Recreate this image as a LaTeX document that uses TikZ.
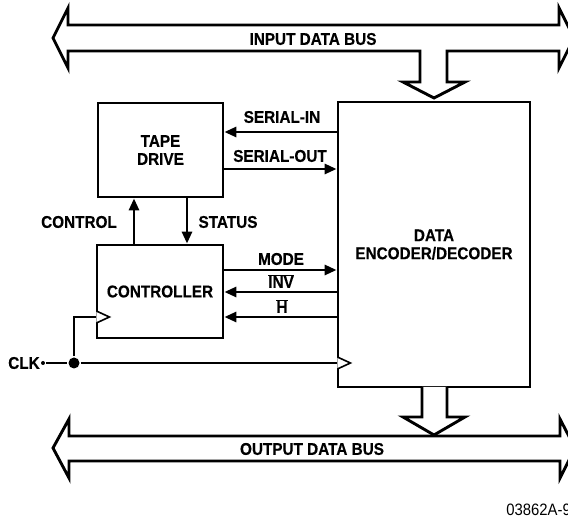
\documentclass[tikz,border=0pt]{standalone}
\usepackage{fontspec}
\setmainfont{Liberation Sans}[FakeStretch=0.9,BoldFeatures={FakeStretch=0.9,FakeBold=0.4}]
\usetikzlibrary{arrows.meta}
\newcommand{\ovl}[1]{\ensuremath{\overline{\hbox{\vphantom{I}#1}}}}
\begin{document}
\begin{tikzpicture}[x=1pt,y=-1pt,line width=2.8pt,line join=miter,
  blk/.style={draw,inner sep=0pt,align=center,font=\fontsize{17}{18}\selectfont\bfseries},
  lbl/.style={inner sep=0pt,font=\fontsize{17}{18}\selectfont\bfseries},
  sig/.style={-{Triangle[length=12pt,width=10pt]}},
  bus/.style={line width=2.9pt,fill=white},
  clktri/.style={line width=1.6pt,fill=white}]
\useasboundingbox (0,0) rectangle (568,518);
% buses
\draw[bus] (53,38) -- (68,8) -- (68,25) -- (559,25) -- (559,8) -- (574,38) -- (559,68) -- (559,51)
  -- (447,51) -- (447,82) -- (465,82) -- (434,98) -- (403,82) -- (420,82) -- (420,51) -- (68,51) -- (68,68) -- cycle;
\node[lbl] (ibus) at (313,39) {INPUT DATA BUS};
\draw[bus] (53,448) -- (69,419) -- (69,436) -- (560,436) -- (560,419) -- (575,448) -- (560,478) -- (560,461)
  -- (69,461) -- (69,478) -- cycle;
\node[lbl] (obus) at (312,449) {OUTPUT DATA BUS};
% blocks
\node[blk,minimum width=125pt,minimum height=94pt] (tape) at (160.5,150) {TAPE\\DRIVE};
\node[blk,minimum width=126pt,minimum height=93pt] (ctrl) at (160,291.5) {CONTROLLER};
\node[blk,minimum width=192pt,minimum height=285pt] (enc) at (434,244.5) {DATA\\ENCODER/DECODER};
% output bus arrow
\draw[bus] (422,387) -- (422,417) -- (403,417) -- (434,435) -- (465,417) -- (447,417) -- (447,387);
% signals
\coordinate (ysi) at (0,132);
\coordinate (yso) at (0,169);
\coordinate (ymo) at (0,270);
\coordinate (yin) at (0,292);
\coordinate (yh) at (0,317);
\coordinate (ycl) at (0,363);
\coordinate (xc) at (134,0);
\coordinate (xs) at (187,0);
\draw[sig] (enc.west |- ysi) -- (tape.east |- ysi);
\draw[sig] (tape.east |- yso) -- (enc.west |- yso);
\draw[sig] (ctrl.north -| xc) -- (tape.south -| xc);
\draw[sig] (tape.south -| xs) -- (ctrl.north -| xs);
\draw[sig] (ctrl.east |- ymo) -- (enc.west |- ymo);
\draw[sig] (enc.west |- yin) -- (ctrl.east |- yin);
\draw[sig] (enc.west |- yh) -- (ctrl.east |- yh);
\node[lbl] (lsi) at (282,117) {SERIAL-IN};
\node[lbl] (lso) at (280,156) {SERIAL-OUT};
\node[lbl] (lco) at (79,222) {CONTROL};
\node[lbl] (lst) at (228,222) {STATUS};
\node[lbl] (lmo) at (281,259) {MODE};
\node[lbl] (lin) at (281,281) {\ovl{INV}};
\node[lbl] (lh) at (282,306) {\ovl{H}};
% clock
\node[lbl,anchor=center] (clk) at (24,363) {CLK};
\node[circle,fill,inner sep=0pt,minimum size=4pt] (cd) at (43,363) {};
\node[circle,fill,inner sep=0pt,minimum size=11pt] (j) at (74,363) {};
\draw (cd) -- (j) -- (enc.west |- ycl);
\draw (j) |- (ctrl.west |- yh);
\draw[clktri] ([xshift=0.8pt]ctrl.west |- yh) ++(0,-6) -- ++(13,6) -- ++(-13,6);
\draw[clktri] ([xshift=0.8pt]enc.west |- ycl) ++(0,-6) -- ++(13,6) -- ++(-13,6);
\node[anchor=west,inner sep=0pt,font=\fontsize{16.5}{17}\selectfont] (ref) at (505,510) {03862A-94};
\end{tikzpicture}
\end{document}
